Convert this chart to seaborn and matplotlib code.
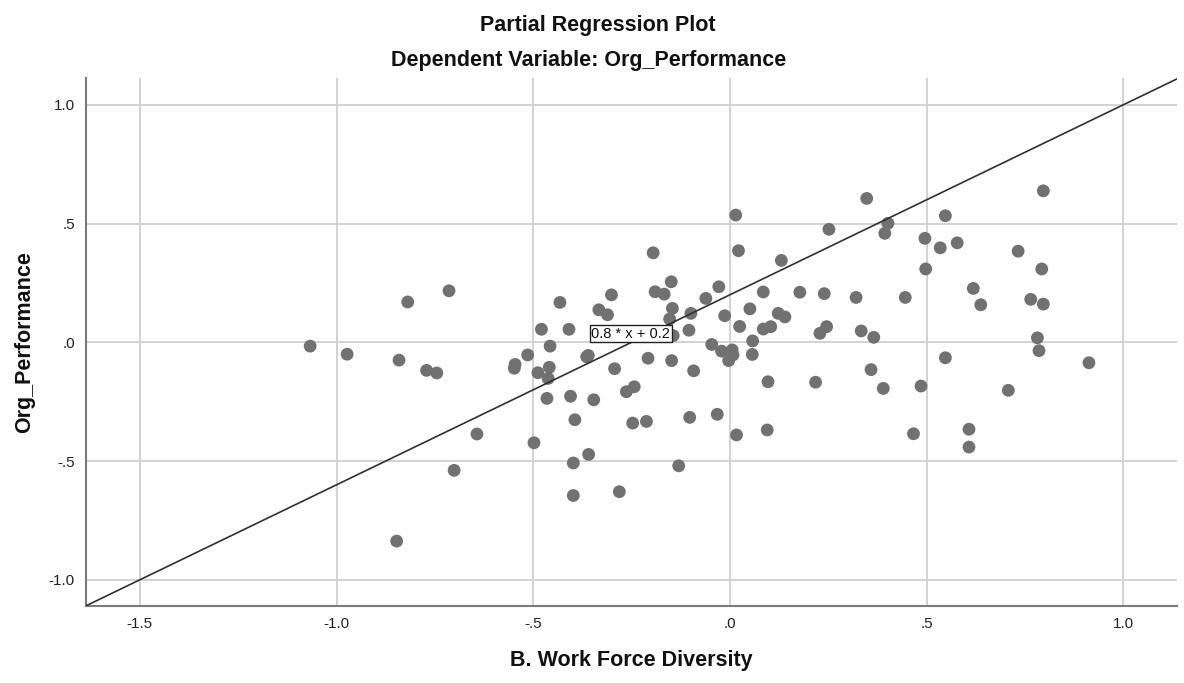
import matplotlib
matplotlib.use("Agg")
import matplotlib.pyplot as plt
import seaborn as sns
import numpy as np
import pandas as pd

work_force_diversity = [
    -1.067, -0.973, -0.841, -0.819, -0.771, -0.745, -0.714, -0.643, -0.701, -0.847,
    -0.548, -0.546, -0.514, -0.479, -0.488, -0.498, -0.462, -0.459, -0.457, -0.465,
    -0.432, -0.409, -0.405, -0.394, -0.398, -0.398, -0.359, -0.364, -0.360, -0.346,
    -0.333, -0.311, -0.301, -0.293, -0.281, -0.263, -0.243, -0.247, -0.212, -0.208,
    -0.195, -0.190, -0.167, -0.149, -0.146, -0.153, -0.144, -0.148, -0.130, -0.104,
    -0.102, -0.099, -0.092, -0.061, -0.046, -0.032, -0.028, -0.021, -0.013, -0.003,
    0.008, 0.006, 0.015, 0.017, 0.022, 0.025, 0.051, 0.057, 0.058, 0.085,
    0.085, 0.097, 0.095, 0.104, 0.123, 0.131, 0.140, 0.178, 0.218, 0.229,
    0.240, 0.246, 0.252, 0.321, 0.334, 0.348, 0.366, 0.359, 0.394, 0.402,
    0.390, 0.446, 0.467, 0.486, 0.496, 0.498, 0.535, 0.548, 0.548, 0.578,
    0.608, 0.608, 0.619, 0.638, 0.708, 0.733, 0.765, 0.782, 0.786, 0.793,
    0.797, 0.797, 0.913,
]
org_performance = [
    -0.016, -0.050, -0.075, 0.170, -0.118, -0.129, 0.217, -0.386, -0.539, -0.837,
    -0.109, -0.093, -0.053, 0.055, -0.128, -0.423, -0.152, -0.105, -0.016, -0.236,
    0.168, 0.055, -0.227, -0.326, -0.508, -0.645, -0.472, -0.061, -0.055, -0.242,
    0.137, 0.116, 0.200, -0.111, -0.629, -0.208, -0.187, -0.340, -0.333, -0.067,
    0.377, 0.213, 0.203, 0.255, 0.143, 0.098, 0.028, -0.077, -0.520, 0.051,
    -0.316, 0.122, -0.120, 0.185, -0.009, -0.303, 0.234, -0.037, 0.112, -0.077,
    -0.053, -0.032, 0.536, -0.390, 0.386, 0.067, 0.141, -0.051, 0.006, 0.212,
    0.056, -0.166, -0.369, 0.066, 0.122, 0.345, 0.107, 0.211, -0.168, 0.038,
    0.205, 0.066, 0.476, 0.189, 0.048, 0.606, 0.021, -0.115, 0.459, 0.501,
    -0.194, 0.189, -0.385, -0.184, 0.438, 0.309, 0.398, 0.533, -0.065, 0.419,
    -0.366, -0.441, 0.227, 0.158, -0.202, 0.384, 0.181, 0.019, -0.035, 0.309,
    0.161, 0.638, -0.086,
]
fit_slope = 0.8
fit_intercept = 0.2
fit_label = "0.8 * x + 0.2"
x_ticks = [-1.5, -1.0, -0.5, 0.0, 0.5, 1.0]
x_tick_labels = ["-1.5", "-1.0", "-.5", ".0", ".5", "1.0"]
y_ticks = [-1.0, -0.5, 0.0, 0.5, 1.0]
y_tick_labels = ["-1.0", "-.5", ".0", ".5", "1.0"]
title_main = "Partial Regression Plot"
title_sub = "Dependent Variable: Org_Performance"
x_label = "B. Work Force Diversity"
y_label = "Org_Performance"

df = pd.DataFrame({"x": work_force_diversity, "y": org_performance})

sns.set_style("whitegrid")
plt.rcParams["font.family"] = ["Liberation Sans", "DejaVu Sans"]

fig = plt.figure(figsize=(11.84, 6.83), dpi=100)
ax = fig.add_axes([0.0726, 0.1132, 0.9938 - 0.0726, 0.8854 - 0.1132])

xlim = (-1.637, 1.136)
ylim = (-1.109, 1.112)

sns.scatterplot(data=df, x="x", y="y", ax=ax, color="#717171", s=85,
                edgecolor="none", linewidth=0, zorder=3)

lx = np.array(xlim)
ax.plot(lx, fit_slope * lx + fit_intercept, color="#303030", lw=1.2, zorder=4)

ax.set_xlim(*xlim)
ax.set_ylim(*ylim)
ax.set_xticks(x_ticks)
ax.set_xticklabels(x_tick_labels)
ax.set_yticks(y_ticks)
ax.set_yticklabels(y_tick_labels)
ax.tick_params(axis="both", length=0, labelsize=11, colors="#222222", pad=8)
ax.grid(True, color="#d2d2d2", lw=1.4)
for side in ["top", "right"]:
    ax.spines[side].set_visible(False)
for side in ["left", "bottom"]:
    ax.spines[side].set_visible(True)
    ax.spines[side].set_color("#7a7a7a")
    ax.spines[side].set_linewidth(1.5)
ax.set_facecolor("white")

ax.set_xlabel(x_label, fontsize=15.5, fontweight="bold", labelpad=14, color="#111111")
ax.set_ylabel(y_label, fontsize=15.5, fontweight="bold", labelpad=10, color="#111111")

lab_x = -0.152
ax.text(lab_x, fit_slope * lab_x + fit_intercept - 0.012, fit_label, ha="right", va="top",
        fontsize=10.5, color="#111111", zorder=5,
        bbox=dict(boxstyle="square,pad=0.1", fc="white", ec="#222222", lw=1.0))

fig.text(0.505, 0.963, title_main, ha="center", va="center", fontsize=15.5,
         fontweight="bold", color="#111111")
fig.text(0.497, 0.911, title_sub, ha="center", va="center", fontsize=15.5,
         fontweight="bold", color="#111111")

fig.savefig("out.png", dpi=100, facecolor="white")
